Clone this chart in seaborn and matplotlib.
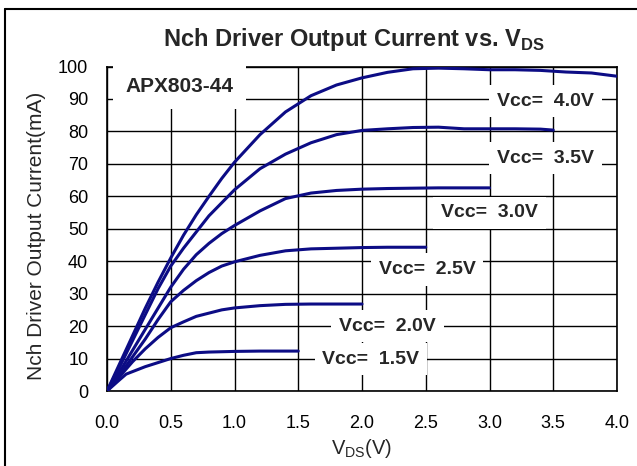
import numpy as np
import pandas as pd
import matplotlib
matplotlib.use('Agg')
import matplotlib.pyplot as plt
import seaborn as sns

# curves: Vds (V) -> current (mA)
vds_40 = [0, 0.1, 0.2, 0.3, 0.4, 0.5, 0.6, 0.7, 0.8, 0.9, 1.0, 1.2, 1.4, 1.6, 1.8, 2.0, 2.2, 2.4, 2.6, 2.8, 3.0, 3.2, 3.4, 3.6, 3.8, 4.0]
ids_40 = [0, 8.5, 17, 25.5, 33.5, 41, 48, 54.3, 60, 65.5, 70.5, 79, 86, 91, 94.3, 96.5, 98.2, 99.3, 99.5, 99.3, 99, 99, 98.8, 98.3, 98, 97]
vds_35 = [0, 0.1, 0.2, 0.3, 0.4, 0.5, 0.6, 0.7, 0.8, 0.9, 1.0, 1.2, 1.4, 1.6, 1.8, 2.0, 2.2, 2.4, 2.6, 2.8, 3.0, 3.2, 3.4, 3.5]
ids_35 = [0, 7.5, 15.5, 23.5, 31.5, 38.5, 44, 49, 54, 58, 62, 68.5, 73, 76.5, 79, 80.3, 80.8, 81.2, 81.3, 80.8, 80.8, 80.8, 80.7, 80.4]
vds_30 = [0, 0.1, 0.2, 0.3, 0.4, 0.5, 0.6, 0.7, 0.8, 0.9, 1.0, 1.2, 1.4, 1.6, 1.8, 2.0, 2.2, 2.4, 2.6, 2.8, 3.0]
ids_30 = [0, 6, 12.5, 19, 25.5, 32, 37.5, 42, 45.5, 48.5, 51, 55.5, 59.3, 61, 61.8, 62.2, 62.4, 62.5, 62.6, 62.6, 62.6]
vds_25 = [0, 0.1, 0.2, 0.3, 0.4, 0.5, 0.6, 0.7, 0.8, 0.9, 1.0, 1.2, 1.4, 1.6, 1.8, 2.0, 2.2, 2.4, 2.5]
ids_25 = [0, 5, 10.5, 16, 22, 27.5, 31, 34, 36.5, 38.5, 39.8, 41.8, 43.2, 43.8, 44, 44.2, 44.3, 44.3, 44.3]
vds_20 = [0, 0.1, 0.2, 0.3, 0.4, 0.5, 0.6, 0.7, 0.8, 0.9, 1.0, 1.2, 1.4, 1.6, 1.8, 2.0]
ids_20 = [0, 4.5, 9, 13, 16.5, 19.5, 21.3, 23, 24, 25, 25.6, 26.3, 26.7, 26.8, 26.8, 26.8]
vds_15 = [0, 0.1, 0.15, 0.3, 0.5, 0.6, 0.7, 0.8, 1.0, 1.2, 1.5]
ids_15 = [0, 3.5, 5.2, 7.5, 10, 11, 11.8, 12, 12.2, 12.3, 12.3]

vcc_names = ['4.0V', '3.5V', '3.0V', '2.5V', '2.0V', '1.5V']
vds_all = [vds_40, vds_35, vds_30, vds_25, vds_20, vds_15]
ids_all = [ids_40, ids_35, ids_30, ids_25, ids_20, ids_15]

# label positions (V, mA)
label_x = [3.44, 3.44, 3.0, 2.51, 2.20, 2.07]
label_y = [89.3, 71.8, 54.9, 37.5, 20, 9.8]

frames = []
for name, x, y in zip(vcc_names, vds_all, ids_all):
    frames.append(pd.DataFrame({'Vds': x, 'Id': y, 'Vcc': name}))
df = pd.concat(frames, ignore_index=True)

sns.set_style('white')
plt.rcParams['font.family'] = ['Liberation Sans', 'DejaVu Sans']
plt.rcParams['mathtext.fontset'] = 'custom'
plt.rcParams['mathtext.rm'] = 'Liberation Sans'
plt.rcParams['mathtext.bf'] = 'Liberation Sans:bold'

fig = plt.figure(figsize=(6.37, 4.66), dpi=100)
ax = fig.add_axes([107 / 637, 1 - 391 / 466, 510 / 637, 324.5 / 466])

navy = '#0c0c85'
sns.lineplot(data=df, x='Vds', y='Id', hue='Vcc', palette=[navy] * 6,
             units='Vcc', estimator=None, linewidth=2.2, legend=False, ax=ax, zorder=3)

ax.set_xlim(0, 4.0)
ax.set_ylim(0, 100)
ax.set_xticks(np.arange(0, 4.01, 0.5))
ax.set_yticks(np.arange(0, 101, 10))
ax.set_xticklabels([f'{v:.1f}' for v in np.arange(0, 4.01, 0.5)])
ax.grid(True, color='black', linewidth=1.0)
ax.set_axisbelow(True)
for s in ax.spines.values():
    s.set_color('black')
    s.set_linewidth(1.2)
ax.tick_params(labelsize=13, length=0, colors='black')
ax.tick_params(axis='x', pad=17)
ax.tick_params(axis='y', pad=13.5)

ax.set_xlabel(r'V$_{\mathrm{DS}}$(V)', fontsize=14.5, va='baseline')
ax.xaxis.set_label_coords(0.5, (391 - 454) / 324.5)
ax.set_ylabel('Nch Driver Output Current(mA)', fontsize=15, va='center')
ax.yaxis.set_label_coords((36.5 - 107) / 510, (391 - 236) / 324.5)

for name, x, y in zip(vcc_names, label_x, label_y):
    ax.text(x, y, 'Vcc=  ' + name, fontsize=14, fontweight='bold', ha='center', va='center',
            zorder=4, bbox=dict(facecolor='white', edgecolor='none', boxstyle='square', pad=0.4))

ax.text(0.567, 93.8, 'APX803-44', fontsize=15, fontweight='bold', ha='center', va='center',
        zorder=4, bbox=dict(facecolor='white', edgecolor='none', boxstyle='square', pad=0.6))

fig.text(354 / 637, 1 - 46 / 466, r'Nch Driver Output Current vs. V$_{\mathbf{DS}}$',
         fontsize=17, fontweight='bold', ha='center', va='baseline')

# outer frame (left and top edges visible)
fig.add_artist(plt.Line2D([5 / 637, 5 / 637], [0, 1 - 9 / 466], color='black', linewidth=1.5))
fig.add_artist(plt.Line2D([5 / 637, 1], [1 - 9 / 466, 1 - 9 / 466], color='black', linewidth=1.5))

fig.savefig('out.png', dpi=100)
